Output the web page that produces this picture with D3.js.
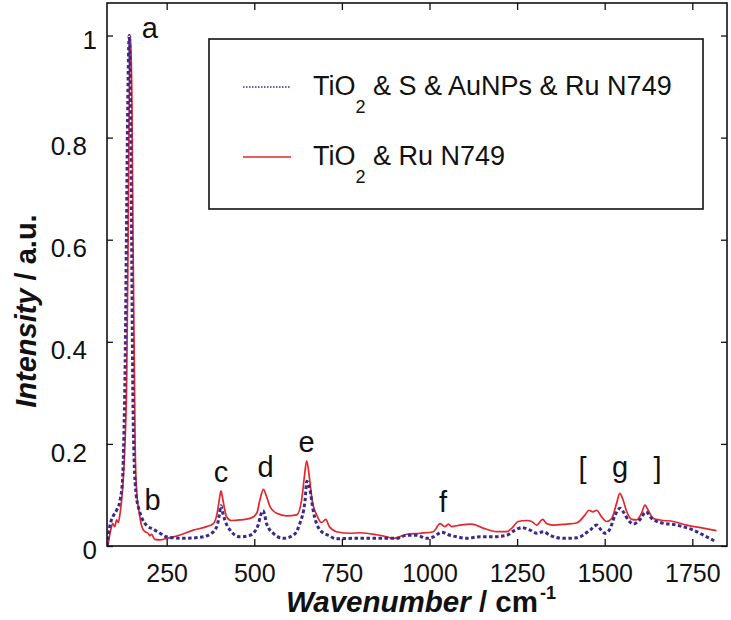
<!DOCTYPE html>
<html>
<head>
<meta charset="utf-8">
<script src="https://cdn.jsdelivr.net/npm/d3@7"></script>
<style>
  html, body { margin: 0; padding: 0; background: #fff; }
  svg { display: block; font-family: "Liberation Sans", Arial, sans-serif; }
</style>
</head>
<body>
<svg id="chart" width="731" height="620"></svg>
<script>
// ---------- data ----------
const redWavenumber = [83,90,96,102,107,112,117,124,131,136,140,143,147,151,154,158,160,164,172,179,188,197,202,207,216,231,250,288,326,364,383,394,400,405,410,414,421,435,459,488,507,516,526,535,545,564,592,621,635,643,649.5,657,665,678,692,704,714,735,773,802,849,878,897,935,973,1011,1030,1044,1054,1063,1087,1120,1153,1192,1220,1235,1253,1277,1292,1306,1323,1334,1353,1391,1420,1444,1455,1466,1477,1491,1505,1520,1534,1543,1551,1563,1577,1591,1605,1615,1624,1639,1658,1696,1734,1781,1819];
const redIntensity = [0.003,0.03,0.044,0.038,0.051,0.046,0.064,0.11,0.2,0.33,0.6,0.86,1.0,0.86,0.6,0.33,0.2,0.11,0.064,0.038,0.028,0.025,0.02,0.023,0.013,0.012,0.015,0.0215,0.031,0.038,0.044,0.064,0.09,0.108,0.092,0.077,0.057,0.05,0.051,0.054,0.064,0.09,0.111,0.097,0.077,0.064,0.059,0.061,0.09,0.136,0.167,0.136,0.09,0.061,0.046,0.052,0.038,0.028,0.025,0.026,0.022,0.018,0.015,0.023,0.025,0.028,0.044,0.038,0.043,0.038,0.041,0.043,0.035,0.028,0.028,0.035,0.048,0.05,0.048,0.041,0.052,0.044,0.041,0.043,0.045,0.061,0.07,0.067,0.07,0.057,0.048,0.054,0.084,0.103,0.093,0.067,0.052,0.051,0.064,0.08,0.07,0.054,0.051,0.048,0.041,0.035,0.03];

const blueWavenumber = [80,88,97,107,117,124,128,131,135,139,143,147,150,153,157,163,169,179,193,212,231,250,297,345,374,393,400,405,410,416,431,459,488,511,518,525,530,535,554,583,611,630,645,650,655,659,668,688,711,735,782,830,878,906,935,963,992,1011,1035,1054,1078,1106,1144,1182,1220,1244,1263,1287,1306,1325,1344,1382,1420,1458,1477,1489,1501,1513,1530,1544,1553,1567,1582,1601,1618,1634,1658,1705,1753,1791,1819];
const blueIntensity = [0,0.04,0.058,0.07,0.09,0.13,0.22,0.33,0.6,0.87,1.0,0.87,0.6,0.33,0.17,0.1,0.077,0.055,0.04,0.033,0.025,0.018,0.015,0.017,0.023,0.038,0.06,0.079,0.065,0.051,0.031,0.018,0.021,0.041,0.06,0.069,0.06,0.044,0.025,0.015,0.021,0.044,0.09,0.127,0.12,0.11,0.07,0.031,0.021,0.014,0.015,0.015,0.015,0.015,0.021,0.021,0.015,0.018,0.027,0.022,0.018,0.015,0.018,0.018,0.021,0.031,0.036,0.031,0.025,0.028,0.021,0.015,0.016,0.031,0.041,0.032,0.025,0.031,0.061,0.074,0.067,0.051,0.043,0.052,0.067,0.054,0.046,0.041,0.031,0.018,0.008];

const xTicks = [250, 500, 750, 1000, 1250, 1500, 1750];
const yTicks = [0, 0.2, 0.4, 0.6, 0.8, 1];
const yTickLabels = ["0", "0.2", "0.4", "0.6", "0.8", "1"];

const seriesNames = ["TiO|2| & S & AuNPs & Ru N749", "TiO|2| & Ru N749"];

const peakLetters = ["a", "b", "c", "d", "e", "f", "[", "g", "]"];
const peakWavenumber = [202, 209.5, 405, 532, 649.5, 1038.5, 1436.6, 1543.7, 1650.7];
const peakLabelIntensity = [0.995, 0.0705, 0.125, 0.135, 0.184, 0.0666, 0.133, 0.135, 0.133];

// ---------- layout ----------
const svg = d3.select("#chart");
const L = 107, R = 727, T = 3, B = 546;
const x = d3.scaleLinear().domain([79.7, 1849]).range([L, R]);
const y = d3.scaleLinear().domain([0, 1.0637]).range([B, T]);
const RED = "#e5262b", BLUE = "#3b2a8c";

// series lines
const line = d3.line().x(d => x(d[0])).y(d => y(d[1])).curve(d3.curveMonotoneX);
const blueData = blueWavenumber.map((w, i) => [w, blueIntensity[i]]);
const redData = redWavenumber.map((w, i) => [w, redIntensity[i]]);

svg.append("clipPath").attr("id", "clip")
  .append("rect").attr("x", L).attr("y", T).attr("width", R - L).attr("height", B - T);

const g = svg.append("g").attr("clip-path", "url(#clip)");
g.append("path").datum(redData).attr("d", line)
  .attr("fill", "none").attr("stroke", RED).attr("stroke-width", 1.7);
g.append("path").datum(blueData).attr("d", line)
  .attr("fill", "none").attr("stroke", BLUE).attr("stroke-width", 3)
  .attr("stroke-dasharray", "3.5,2.5");

// axes
const xAxis = svg.append("g").attr("transform", `translate(0,${B})`)
  .call(d3.axisBottom(x).tickValues(xTicks).tickSizeInner(-7).tickSizeOuter(0).tickPadding(18).tickFormat(d3.format("d")));
xAxis.select(".domain").remove();
xAxis.selectAll("line").attr("stroke", "#111").attr("stroke-width", 1.3);
xAxis.selectAll("text").attr("font-size", 25).attr("fill", "#111")
  .attr("font-family", "Liberation Sans, Arial, sans-serif").attr("y", 36).attr("dy", null);

const xTop = svg.append("g").attr("transform", `translate(0,${T})`)
  .call(d3.axisTop(x).tickValues(xTicks).tickSizeInner(-7).tickSizeOuter(0).tickFormat(""));
xTop.select(".domain").remove();
xTop.selectAll("line").attr("stroke", "#111").attr("stroke-width", 1.3);

const yAxis = svg.append("g").attr("transform", `translate(${L},0)`)
  .call(d3.axisLeft(y).tickValues(yTicks).tickSizeInner(-6).tickSizeOuter(0)
    .tickFormat((d, i) => yTickLabels[i]));
yAxis.select(".domain").remove();
yAxis.selectAll("line").attr("stroke", "#111").attr("stroke-width", 1.3);
yAxis.selectAll("text").attr("font-size", 26).attr("fill", "#111")
  .attr("font-family", "Liberation Sans, Arial, sans-serif")
  .attr("x", (d) => (d === 0 || d === 1) ? -10 : -20)
  .attr("dy", (d) => d === 0 ? "0.42em" : "0.35em")
  .attr("y", (d) => d === 0 ? 2 : (d === 1 ? 4 : 8));

const yRight = svg.append("g").attr("transform", `translate(${R},0)`)
  .call(d3.axisRight(y).tickValues(yTicks).tickSizeInner(-6).tickSizeOuter(0).tickFormat(""));
yRight.select(".domain").remove();
yRight.selectAll("line").attr("stroke", "#111").attr("stroke-width", 1.3);

// frame
svg.append("rect").attr("x", L).attr("y", T).attr("width", R - L).attr("height", B - T)
  .attr("fill", "none").attr("stroke", "#111").attr("stroke-width", 1.6);

// peak labels
svg.append("g").selectAll("text").data(peakLetters).join("text")
  .attr("x", (d, i) => x(peakWavenumber[i]))
  .attr("y", (d, i) => y(peakLabelIntensity[i]))
  .attr("text-anchor", "middle").attr("font-size", 29).attr("fill", "#111")
  .text(d => d);

// axis titles
const xt = svg.append("text").attr("x", 286).attr("y", 612)
  .attr("font-size", 29.5).attr("font-weight", "bold").attr("fill", "#111");
xt.append("tspan").attr("font-style", "italic").text("Wavenumber");
xt.append("tspan").text(" / cm");
xt.append("tspan").attr("font-size", 18).attr("dx", 2).attr("dy", -13).text("-1");

const yt = svg.append("text").attr("transform", "translate(36,311) rotate(-90)")
  .attr("text-anchor", "middle").attr("font-size", 29).attr("font-weight", "bold").attr("fill", "#111");
yt.append("tspan").attr("font-style", "italic").text("Intensity");
yt.append("tspan").text(" / a.u.");

// legend
const lg = svg.append("g");
lg.append("rect").attr("x", 209).attr("y", 39).attr("width", 494).attr("height", 170)
  .attr("fill", "#fff").attr("stroke", "#111").attr("stroke-width", 1.6);
const legendRows = [
  { name: seriesNames[0], color: BLUE, dash: "1.5,1.5", width: 1.6, base: 95 },
  { name: seriesNames[1], color: RED, dash: null, width: 1.6, base: 165 }
];
legendRows.forEach(r => {
  lg.append("line").attr("x1", 243).attr("x2", 291).attr("y1", r.base - 8).attr("y2", r.base - 8)
    .attr("stroke", r.color).attr("stroke-width", r.width).attr("stroke-dasharray", r.dash);
  const parts = r.name.split("|");
  const t = lg.append("text").attr("x", 313).attr("y", r.base).attr("font-size", 27).attr("fill", "#111");
  t.append("tspan").text(parts[0]);
  t.append("tspan").attr("font-size", 18).attr("dy", 18).text(parts[1]);
  t.append("tspan").attr("dy", -18).text(parts[2]);
});
</script>
</body>
</html>
